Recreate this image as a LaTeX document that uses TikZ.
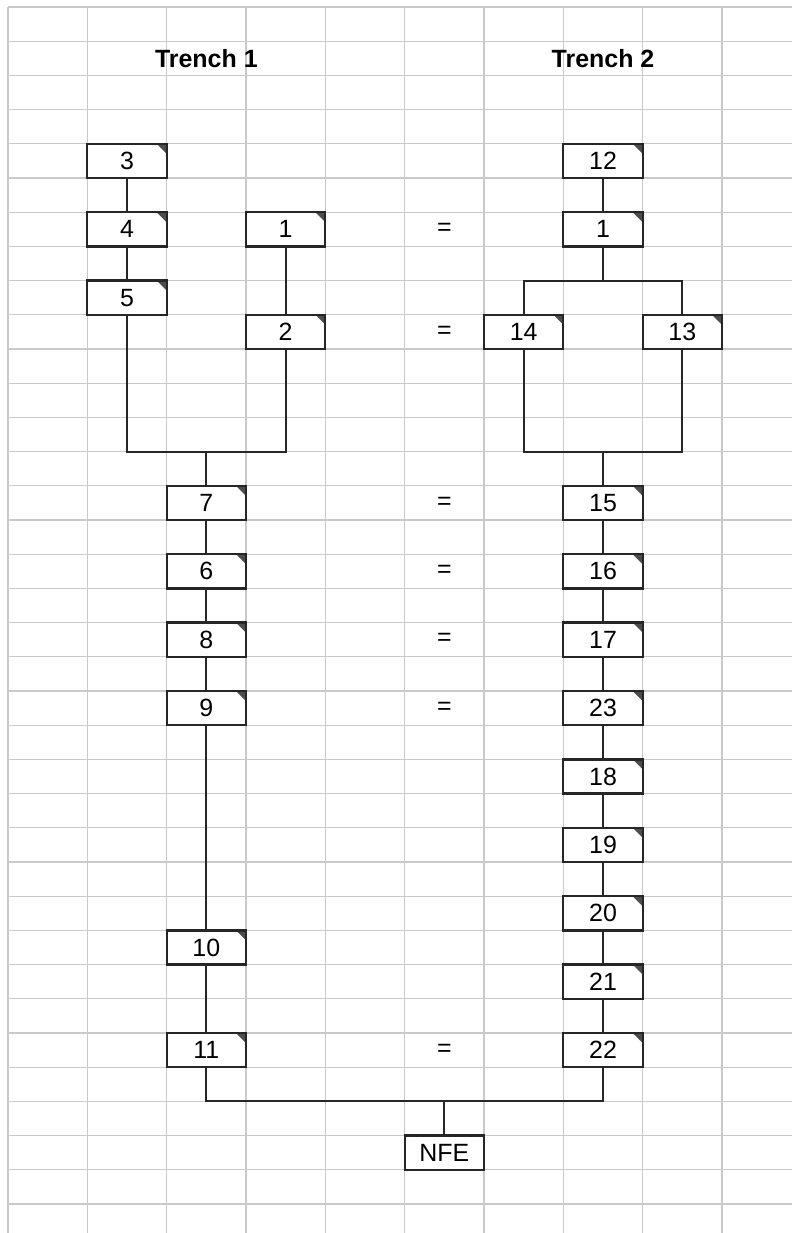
\documentclass[tikz,border=0pt]{standalone}
\usepackage{fontspec}
\setmainfont{Liberation Sans}
\usetikzlibrary{positioning}
\definecolor{Grid}{HTML}{C9C9C9}
\definecolor{Ink}{HTML}{262626}
\definecolor{Flag}{HTML}{4D4D4D}
\tikzset{cell/.style={draw=Ink,fill=white,line width=1.3pt,minimum width=1.5867cm,minimum height=.684cm,inner sep=0pt,outer sep=0pt,font=\fontsize{14.2}{16}\selectfont},unit/.style={cell,path picture={\fill[Flag](path picture bounding box.north east)--++(-.2cm,0pt)--++(.2cm,-.2cm)--cycle;}},link/.style={draw=Ink,line width=1.1pt},gridline/.style={draw=Grid,line width=.75pt},title/.style={font=\fontsize{14.2}{16}\selectfont\bfseries},same/.style={font=\fontsize{14.2}{16}\selectfont}}

\begin{document}
\begin{tikzpicture}[x=1.5867cm,y=-.684cm]
      \useasboundingbox (-.1008,-.2047) rectangle (9.883,35.848);
      % sheet grid
      \foreach \c in {0,...,9} \draw[gridline] (\c,0) -- (\c,35.848);
      \foreach \r in {0,...,35} \draw[gridline] (0,\r) -- (9.883,\r);
      \node[title](t1) at (2.5,1.5) {Trench 1};
      \node[title](t2) at (7.5,1.5) {Trench 2};
      % trench 1
      \node[unit](a3) at (1.5,4.5) {3};
      \node[unit](a4) at (1.5,6.5) {4};
      \node[unit](a5) at (1.5,8.5) {5};
      \node[unit](a1) at (3.5,6.5) {1};
      \node[unit](a2) at (3.5,9.5) {2};
      \node[unit](a7) at (2.5,14.5) {7};
      \node[unit](a6) at (2.5,16.5) {6};
      \node[unit](a8) at (2.5,18.5) {8};
      \node[unit](a9) at (2.5,20.5) {9};
      \node[unit](a10) at (2.5,27.5) {10};
      \node[unit](a11) at (2.5,30.5) {11};
      % trench 2
      \node[unit](b12) at (7.5,4.5) {12};
      \node[unit](b1) at (7.5,6.5) {1};
      \node[unit](b14) at (6.5,9.5) {14};
      \node[unit](b13) at (8.5,9.5) {13};
      \node[unit](b15) at (7.5,14.5) {15};
      \node[unit](b16) at (7.5,16.5) {16};
      \node[unit](b17) at (7.5,18.5) {17};
      \node[unit](b23) at (7.5,20.5) {23};
      \node[unit](b18) at (7.5,22.5) {18};
      \node[unit](b19) at (7.5,24.5) {19};
      \node[unit](b20) at (7.5,26.5) {20};
      \node[unit](b21) at (7.5,28.5) {21};
      \node[unit](b22) at (7.5,30.5) {22};
      \node[cell](nfe) at (5.5,33.5) {NFE};
      \foreach \r in {6,9,14,16,18,20,30} \node[same](eq\r) at (5.5,\r+.5) {=};
      % junctions
      \coordinate (j1) at (2.5,13);
      \coordinate (k1) at (7.5,8);
      \coordinate (k2) at (7.5,13);
      \coordinate (j3) at (5.5,32);
      \foreach \u/\v in {a3/a4,a4/a5,a1/a2,a7/a6,a6/a8,a8/a9,a9/a10,a10/a11,b12/b1,b15/b16,b16/b17,b17/b23,b23/b18,b18/b19,b19/b20,b20/b21,b21/b22} \draw[link](\u)--(\v);
      \draw[link](a5)|-(j1)-|(a2);\draw[link](j1)--(a7);
      \draw[link](b1)--(k1);\draw[link](b14)|-(k1)-|(b13);
      \draw[link](b14)|-(k2)-|(b13);\draw[link](k2)--(b15);
      \draw[link](a11)|-(j3)-|(b22);\draw[link](j3)--(nfe);
    \end{tikzpicture}
\end{document}
